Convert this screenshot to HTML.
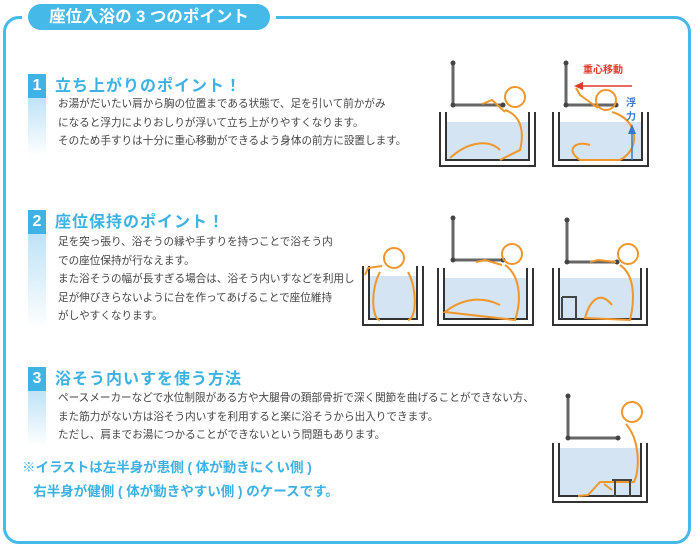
<!DOCTYPE html>
<html><head><meta charset="utf-8"><style>
body{margin:0;width:700px;height:546px;background:#fff;position:relative;overflow:hidden;font-family:"Liberation Sans","Noto Sans CJK JP",sans-serif}
.frame{position:absolute;left:3px;top:16px;width:682px;height:522px;border:3px solid #45b9e8;border-radius:16px}
.pill{position:absolute;left:28px;top:4px;width:242px;height:26px;background:#45b9e8;border-radius:13px;color:#fff;font-weight:bold;font-size:16.5px;line-height:26px;text-align:center;box-shadow:0 0 0 6px #fff}
.num{position:absolute;left:28px;width:18px;height:24px;background:#3fb3e6;color:#fff;font-weight:bold;font-size:16px;line-height:24px;text-align:center}
.strip{position:absolute;left:28px;width:18px;background:linear-gradient(#bfe3f6,#fff)}
.h{position:absolute;left:55px;color:#3cb2e4;font-size:16px;font-weight:bold;letter-spacing:1px}
.t{position:absolute;left:58px;color:#444;font-size:10.6px;line-height:18.5px}
.note{position:absolute;left:22px;top:456px;color:#3cb2e4;font-size:13.5px;font-weight:bold;line-height:24px}
svg{position:absolute;left:0;top:0}
</style></head><body>
<div class="frame"></div>
<div class="pill">座位入浴の 3 つのポイント</div>

<div class="num" style="top:74px">1</div><div class="strip" style="top:98px;height:58px"></div>
<div class="h" style="top:72px">立ち上がりのポイント！</div>
<div class="t" style="top:95px">お湯がだいたい肩から胸の位置まである状態で、足を引いて前かがみ<br>になると浮力によりおしりが浮いて立ち上がりやすくなります。<br>そのため手すりは十分に重心移動ができるよう身体の前方に設置します。</div>

<div class="num" style="top:210px">2</div><div class="strip" style="top:234px;height:95px"></div>
<div class="h" style="top:208px">座位保持のポイント！</div>
<div class="t" style="top:233px">足を突っ張り、浴そうの縁や手すりを持つことで浴そう内<br>での座位保持が行なえます。<br>また浴そうの幅が長すぎる場合は、浴そう内いすなどを利用し<br>足が伸びきらないように台を作ってあげることで座位維持<br>がしやすくなります。</div>

<div class="num" style="top:367px">3</div><div class="strip" style="top:391px;height:55px"></div>
<div class="h" style="top:365px">浴そう内いすを使う方法</div>
<div class="t" style="top:389px">ペースメーカーなどで水位制限がある方や大腿骨の頚部骨折で深く関節を曲げることができない方、<br>また筋力がない方は浴そう内いすを利用すると楽に浴そうから出入りできます。<br>ただし、肩までお湯につかることができないという問題もあります。</div>

<div class="note">※イラストは左半身が患側 ( 体が動きにくい側 )<br>&nbsp;&nbsp;&nbsp;右半身が健側 ( 体が動きやすい側 ) のケースです。</div>

<svg width="700" height="546" viewBox="0 0 700 546">
<defs>
<g id="bar"><path d="M0 0V42H50" fill="none" stroke="#666" stroke-width="3"/><circle cx="0" cy="0" r="2.5" fill="#444"/><circle cx="0" cy="42" r="2.5" fill="#444"/><circle cx="50" cy="42" r="2.5" fill="#444"/></g>
</defs>
<g stroke="#333" stroke-width="2" fill="none">
<rect x="446" y="122" width="83" height="38" fill="#d5e4f2" stroke="none"/>
<path d="M440 112V166H535V112M446 112V160H529V112"/>
<rect x="559" y="122" width="83" height="38" fill="#d5e4f2" stroke="none"/>
<path d="M553 112V166H648V112M559 112V160H642V112"/>

<rect x="369" y="276" width="48" height="43" fill="#d5e4f2" stroke="none"/>
<path d="M363 266V325H423V266M369 266V319H417V266"/>
<rect x="444" y="278" width="83" height="41" fill="#d5e4f2" stroke="none"/>
<path d="M438 268V325H533V268M444 268V319H527V268"/>
<rect x="559" y="278" width="83" height="41" fill="#d5e4f2" stroke="none"/>
<path d="M553 268V325H647V268M559 268V319H641V268"/>

<rect x="559" y="448" width="82" height="48" fill="#d5e4f2" stroke="none"/>
<path d="M553 443V502H647V443M559 443V496H641V443"/>
</g>
<use href="#bar" x="453" y="63"/>
<use href="#bar" x="566" y="63"/>
<use href="#bar" x="453" y="218"/>
<use href="#bar" x="567" y="220"/>
<use href="#bar" x="568" y="396"/>
<g fill="none" stroke="#f0962a" stroke-width="2">
<circle cx="515" cy="97" r="10"/><path d="M505 110C520 115 525 130 520 150L500 160M450 158C470 140 490 140 500 150M505 112L492 100L482 104"/>
<circle cx="606" cy="100" r="10"/><path d="M598 108L580 95L576 88M612 112C640 120 640 150 620 160L580 160C565 150 575 140 590 145"/>
<circle cx="394" cy="258" r="10"/><path d="M380 272C370 290 372 320 380 320M408 272C418 290 416 320 408 320M382 266L368 268L365 275"/>
<circle cx="512" cy="254" r="10"/><path d="M505 265C520 275 522 300 515 320L445 312C460 300 480 295 500 305M502 265L485 260L476 262"/>
<circle cx="628" cy="254" r="10"/><path d="M620 265C635 275 635 300 630 320L585 318C590 300 600 290 612 305M616 262L598 260L590 262"/>
<circle cx="632" cy="412" r="10"/><path d="M626 424C640 440 640 470 634 482L600 482L588 495L578 496M604 484L612 490"/>
</g>
<g stroke="#444" stroke-width="2" fill="none"><path d="M562 297H576V319M562 319V297"/><path d="M612 480H632M615 480V497M630 480V497"/></g>
<text x="583" y="73" fill="#e23a2a" font-size="10" font-weight="bold" font-family="Liberation Sans,Noto Sans CJK JP,sans-serif">重心移動</text>
<path d="M632 86H580" stroke="#e23a2a" stroke-width="1.5"/><path d="M574 86L583 82V90Z" fill="#e23a2a"/>
<text x="626" y="106" fill="#3a78c8" font-size="10" font-weight="bold" font-family="Liberation Sans,Noto Sans CJK JP,sans-serif">浮</text>
<text x="626" y="120" fill="#3a78c8" font-size="10" font-weight="bold" font-family="Liberation Sans,Noto Sans CJK JP,sans-serif">力</text>
<path d="M632 160V132" stroke="#3a78c8" stroke-width="1.5"/><path d="M632 124L628 134H636Z" fill="#3a78c8"/>
</svg>
</body></html>
